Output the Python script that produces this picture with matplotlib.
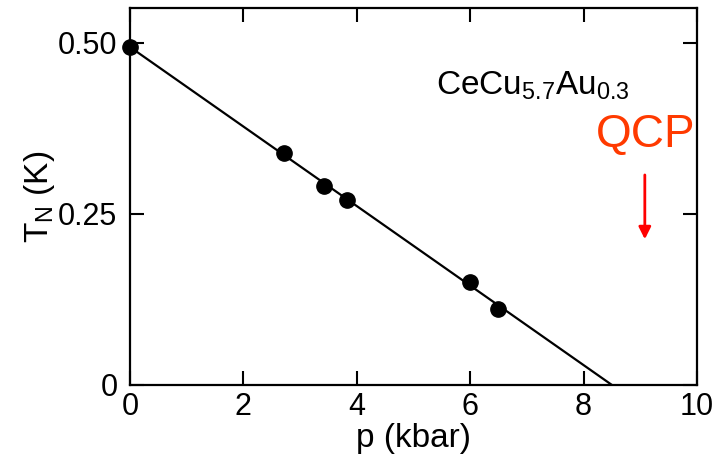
import numpy as np
import matplotlib
matplotlib.use("Agg")
import matplotlib.pyplot as plt

plt.rcParams['font.family'] = ['Liberation Sans', 'DejaVu Sans']
plt.rcParams['mathtext.fontset'] = 'custom'
plt.rcParams['mathtext.rm'] = 'Liberation Sans'
plt.rcParams['mathtext.it'] = 'Liberation Sans'

# Neel temperature vs pressure
p_kbar = [0.0, 2.72, 3.42, 3.83, 6.0, 6.49]
tn_K = [0.494, 0.339, 0.291, 0.270, 0.151, 0.111]

# linear fit line endpoints
fit_p = [0.0, 8.5]
fit_tn = [0.494, 0.0]

qcp_p = 9.08
qcp_arrow = [0.307, 0.213]

fig = plt.figure(figsize=(7.15, 4.63), dpi=100)
ax = fig.add_axes([0.1818, 0.1685, 0.7930, 0.8142])

ax.plot(fit_p, fit_tn, color='black', lw=1.6, zorder=2)
ax.plot(p_kbar, tn_K, 'o', color='black', ms=11, zorder=3, clip_on=False)

ax.set_xlim(0, 10)
ax.set_ylim(0, 0.551)
ax.set_xticks([0, 2, 4, 6, 8, 10])
ax.set_yticks([0, 0.25, 0.50])
ax.set_yticklabels(['0', '0.25', '0.50'])

ax.tick_params(direction='in', length=10, width=1.5, labelsize=22,
               top=True, right=True)
ax.tick_params(axis='x', pad=5)
ax.tick_params(axis='y', pad=9)
for s in ax.spines.values():
    s.set_linewidth(1.6)

ax.set_xlabel('p (kbar)', fontsize=24, labelpad=1)
ax.set_ylabel(r'T$_N$ (K)', fontsize=24, labelpad=1)

ax.text(7.11, 0.424, r'CeCu$_{5.7}$Au$_{0.3}$', fontsize=24,
        ha='center', va='baseline')
ax.text(9.1, 0.365, 'QCP', fontsize=33, color='#ff3a00',
        ha='center', va='center')
ax.annotate('', xy=(qcp_p, qcp_arrow[1]), xytext=(qcp_p, qcp_arrow[0]),
            arrowprops=dict(arrowstyle='-|>', color='#ff0000', lw=2,
                            mutation_scale=18, shrinkA=0, shrinkB=0))

fig.savefig('out.png', dpi=100)
